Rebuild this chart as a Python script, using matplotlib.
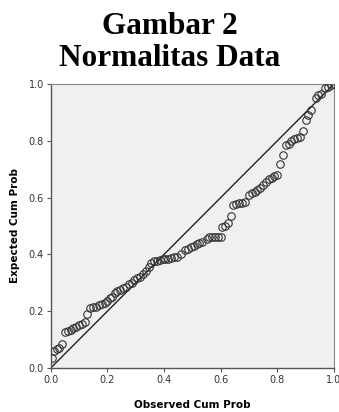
import numpy as np
import matplotlib
matplotlib.use('Agg')
import matplotlib.pyplot as plt

# observed vs expected cumulative probabilities
observed = [0.004, 0.012, 0.02, 0.03, 0.04,
            0.05, 0.06, 0.07, 0.08, 0.09, 0.10, 0.11, 0.12, 0.128,
            0.14, 0.15, 0.16, 0.17, 0.18, 0.19, 0.20, 0.21, 0.215,
            0.225, 0.235, 0.245, 0.255, 0.265, 0.275, 0.285, 0.295, 0.305,
            0.315, 0.325, 0.335, 0.345, 0.355,
            0.365, 0.375, 0.385, 0.395, 0.405, 0.415, 0.425, 0.435, 0.445, 0.46,
            0.475, 0.485, 0.495, 0.505, 0.515, 0.525, 0.535, 0.55, 0.56, 0.57,
            0.58, 0.59, 0.60,
            0.605, 0.615, 0.625, 0.635,
            0.645, 0.655, 0.665, 0.675, 0.685,
            0.70, 0.71, 0.72, 0.73, 0.74, 0.75, 0.76, 0.77, 0.78, 0.79, 0.80,
            0.81, 0.82,
            0.83, 0.84, 0.85, 0.86, 0.87, 0.88,
            0.89, 0.90, 0.91, 0.92, 0.935, 0.945, 0.955, 0.97, 0.98, 0.99, 1.0]
expected = [0.035, 0.06, 0.065, 0.07, 0.085,
            0.125, 0.13, 0.135, 0.14, 0.145, 0.15, 0.155, 0.16, 0.19,
            0.21, 0.215, 0.215, 0.22, 0.225, 0.23, 0.235, 0.245, 0.25,
            0.265, 0.27, 0.275, 0.28, 0.285, 0.295, 0.30, 0.31, 0.315,
            0.32, 0.33, 0.34, 0.355, 0.37,
            0.375, 0.378, 0.38, 0.382, 0.383, 0.385, 0.387, 0.39, 0.392, 0.40,
            0.415, 0.42, 0.425, 0.43, 0.435, 0.44, 0.445, 0.455, 0.46, 0.46,
            0.46, 0.46, 0.46,
            0.495, 0.50, 0.51, 0.535,
            0.575, 0.578, 0.58, 0.582, 0.585,
            0.61, 0.615, 0.62, 0.625, 0.635, 0.645, 0.655, 0.665, 0.67, 0.675, 0.68,
            0.72, 0.75,
            0.785, 0.79, 0.80, 0.805, 0.81, 0.815,
            0.835, 0.875, 0.89, 0.91, 0.95, 0.96, 0.965, 0.985, 0.99, 0.995, 1.0]
ticks = [0.0, 0.2, 0.4, 0.6, 0.8, 1.0]

fig = plt.figure(figsize=(3.39, 4.12), dpi=100)
fig.text(0.5, 0.972, 'Gambar 2', ha='center', va='top',
         family='Liberation Serif', weight='bold', fontsize=22.5)
fig.text(0.5, 0.893, 'Normalitas Data', ha='center', va='top',
         family='Liberation Serif', weight='bold', fontsize=22.5)

ax = fig.add_axes([0.150, 0.107, 0.835, 0.689])
ax.set_facecolor('#f0f0f0')
ax.plot([0, 1], [0, 1], color='#222222', lw=1.0, zorder=2)
ax.plot(observed, expected, 'o', mfc='none', mec='#333333', ms=5.4, mew=0.8, zorder=3)

ax.set_xlim(0, 1)
ax.set_ylim(0, 1)
ax.set_xticks(ticks)
ax.set_yticks(ticks)
ax.set_xticklabels([f'{t:.1f}' for t in ticks])
ax.set_yticklabels([f'{t:.1f}' for t in ticks])
ax.tick_params(direction='out', length=3, width=0.8, color='#555555',
               labelsize=7, labelcolor='#333333', pad=2)
for side in ['left', 'bottom']:
    ax.spines[side].set_color('#555555')
    ax.spines[side].set_linewidth(1.0)
for side in ['top', 'right']:
    ax.spines[side].set_color('#888888')
    ax.spines[side].set_linewidth(0.8)

ax.set_xlabel('Observed Cum Prob', fontsize=7.5, weight='bold', labelpad=11)
ax.set_ylabel('Expected Cum Prob', fontsize=7.5, weight='bold', labelpad=6)

fig.savefig('out.png', dpi=100)
